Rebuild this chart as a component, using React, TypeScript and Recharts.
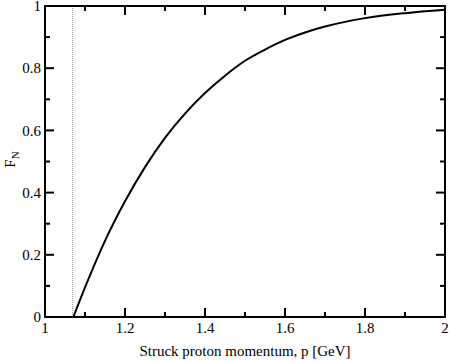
import React from 'react';
import { LineChart, Line, XAxis, YAxis, ReferenceLine } from 'recharts';

const P = [1.071, 1.1, 1.15, 1.2, 1.25, 1.3, 1.35, 1.4, 1.45, 1.5, 1.55, 1.6, 1.65, 1.7, 1.75, 1.8, 1.9, 2.0];
const FN = [0, 0.095, 0.245, 0.372, 0.482, 0.576, 0.654, 0.72, 0.776, 0.824, 0.86, 0.891, 0.915, 0.934, 0.949, 0.961, 0.977, 0.988];
const THRESHOLD = 1.069;
const X_TICKS = [1, 1.1, 1.2, 1.3, 1.4, 1.5, 1.6, 1.7, 1.8, 1.9, 2];
const Y_TICKS = [0, 0.1, 0.2, 0.3, 0.4, 0.5, 0.6, 0.7, 0.8, 0.9, 1];

const data = P.map((p, i) => ({ p, fn: FN[i] }));

const FONT = 'Liberation Serif, Times New Roman, serif';
const FS = 15;
const MAJ = 9;
const MIN = 5;
const OFF = 8; // default recharts tickSize (6) + tickMargin (2)

const isMajor = (v: number) => Math.round(v * 10) % 2 === 0;
const fmt = (v: number) => String(Math.round(v * 10) / 10);

const renderBottomTick = (props: any) => {
  const { x, y, payload } = props;
  const ay = y - OFF;
  const major = isMajor(payload.value);
  return (
    <g key={`b-${payload.value}`}>
      <path d={`M${x},${ay + 1}V${ay - (major ? MAJ : MIN)}`} stroke="#000" strokeWidth={2} fill="none" />
      {major && (
        <text x={x} y={ay + 16} textAnchor="middle" fontFamily={FONT} fontSize={FS} fill="#000">
          {fmt(payload.value)}
        </text>
      )}
    </g>
  );
};

const renderTopTick = (props: any) => {
  const { x, y, payload } = props;
  const ay = y + OFF;
  const major = isMajor(payload.value);
  return (
    <path key={`t-${payload.value}`} d={`M${x},${ay - 1}V${ay + (major ? MAJ : MIN)}`} stroke="#000" strokeWidth={2} fill="none" />
  );
};

const renderLeftTick = (props: any) => {
  const { x, y, payload } = props;
  const ax = x + OFF;
  const major = isMajor(payload.value);
  return (
    <g key={`l-${payload.value}`}>
      <path d={`M${ax - 1},${y}H${ax + (major ? MAJ : MIN)}`} stroke="#000" strokeWidth={2} fill="none" />
      {major && (
        <text x={ax - 4} y={y} dy="0.35em" textAnchor="end" fontFamily={FONT} fontSize={FS} fill="#000">
          {fmt(payload.value)}
        </text>
      )}
    </g>
  );
};

const renderRightTick = (props: any) => {
  const { x, y, payload } = props;
  const ax = x - OFF;
  const major = isMajor(payload.value);
  return (
    <path key={`r-${payload.value}`} d={`M${ax + 1},${y}H${ax - (major ? MAJ : MIN)}`} stroke="#000" strokeWidth={2} fill="none" />
  );
};

const renderXTitle = (props: any) => {
  const vb = props.viewBox || {};
  const cx = vb.x + vb.width / 2;
  return (
    <text x={cx} y={356} textAnchor="middle" fontFamily={FONT} fontSize={FS} fill="#000">
      Struck proton momentum, p [GeV]
    </text>
  );
};

const renderYTitle = (props: any) => {
  const vb = props.viewBox || {};
  const cx = 15;
  const cy = vb.y + vb.height / 2 - 2;
  return (
    <text x={cx} y={cy} transform={`rotate(-90, ${cx}, ${cy})`} textAnchor="middle" fontFamily={FONT} fontSize={FS} fill="#000">
      F<tspan dy={4} fontSize={11}>N</tspan>
    </text>
  );
};

export default function App() {
  return (
    <div style={{ position: 'absolute', left: 0, top: 0, background: '#fff' }}>
      <LineChart width={450} height={361} data={data} margin={{ top: 0, right: 0, bottom: 0, left: 0 }}>
        <XAxis
          dataKey="p"
          type="number"
          domain={[1, 2]}
          ticks={X_TICKS}
          interval={0}
          height={44}
          stroke="#fff"
          tick={renderBottomTick}
          axisLine={{ stroke: '#000', strokeWidth: 2 }}
          label={{ content: renderXTitle }}
        />
        <XAxis
          xAxisId="t"
          dataKey="p"
          orientation="top"
          type="number"
          domain={[1, 2]}
          ticks={X_TICKS}
          interval={0}
          height={6}
          stroke="#fff"
          tick={renderTopTick}
          axisLine={{ stroke: '#000', strokeWidth: 2 }}
        />
        <YAxis
          type="number"
          domain={[0, 1]}
          ticks={Y_TICKS}
          interval={0}
          width={45}
          stroke="#fff"
          tick={renderLeftTick}
          axisLine={{ stroke: '#000', strokeWidth: 2 }}
          label={{ content: renderYTitle }}
        />
        <YAxis
          yAxisId="r"
          orientation="right"
          type="number"
          domain={[0, 1]}
          ticks={Y_TICKS}
          interval={0}
          width={5}
          stroke="#fff"
          tick={renderRightTick}
          axisLine={{ stroke: '#000', strokeWidth: 2 }}
        />
        <ReferenceLine x={THRESHOLD} stroke="#999" strokeWidth={1} strokeDasharray="1 1" />
        <Line
          xAxisId="t"
          yAxisId="r"
          dataKey="fn"
          type="monotone"
          stroke="none"
          dot={false}
          activeDot={false}
          isAnimationActive={false}
        />
        <Line dataKey="fn" type="monotone" stroke="#000" strokeWidth={2} dot={false} isAnimationActive={false} />
      </LineChart>
    </div>
  );
}
